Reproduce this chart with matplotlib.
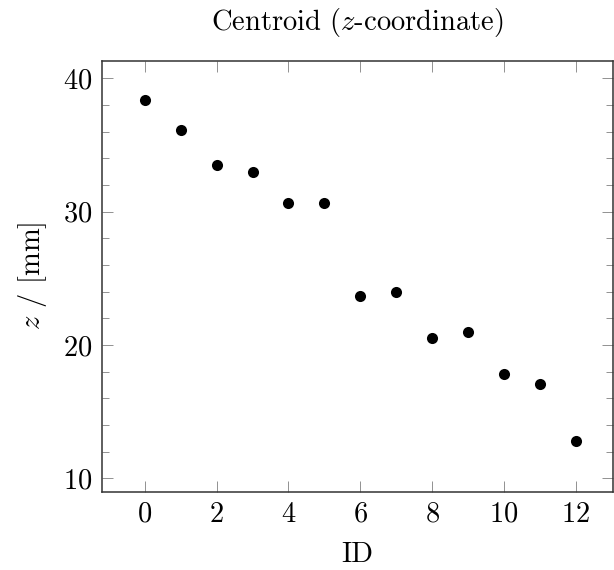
import numpy as np
import matplotlib
matplotlib.use("Agg")
import matplotlib.pyplot as plt
from matplotlib.ticker import MultipleLocator

# centroid z-coordinate per ID
ids = [0, 1, 2, 3, 4, 5, 6, 7, 8, 9, 10, 11, 12]
z_mm = [38.35, 36.15, 33.48, 33.0, 30.63, 30.63, 23.7, 24.0, 20.52, 21.0, 17.85, 17.05, 12.8]

x_ticks = [0, 2, 4, 6, 8, 10, 12]
y_ticks = [10, 20, 30, 40]

plt.rcParams["font.family"] = "cmr10"
plt.rcParams["mathtext.fontset"] = "cm"
plt.rcParams["axes.formatter.use_mathtext"] = True
FS = 20.5

fig = plt.figure(figsize=(6.14, 5.70), dpi=100)
ax = fig.add_axes([0.1656, 0.1374, 0.8324, 0.7556])

ax.scatter(ids, z_mm, s=64, color="black", linewidths=0, zorder=3)

ax.set_xlim(-1.2, 13.03)
ax.set_ylim(9.0, 41.3)
ax.set_xticks(x_ticks)
ax.set_yticks(y_ticks)
ax.yaxis.set_minor_locator(MultipleLocator(2))

ax.tick_params(which="both", direction="in", top=True, right=True,
               color="#808080", width=0.6, labelsize=FS, pad=7)
ax.tick_params(which="major", length=8)
ax.tick_params(which="minor", length=5)

for s in ax.spines.values():
    s.set_linewidth(1.1)
    s.set_color("#333333")

ax.set_title("Centroid ($z$-coordinate)", fontsize=FS, pad=22)
ax.set_xlabel("ID", fontsize=FS, labelpad=10)
ax.set_ylabel("$z$ / [mm]", fontsize=FS, labelpad=10)

fig.savefig("out.png", dpi=100)
